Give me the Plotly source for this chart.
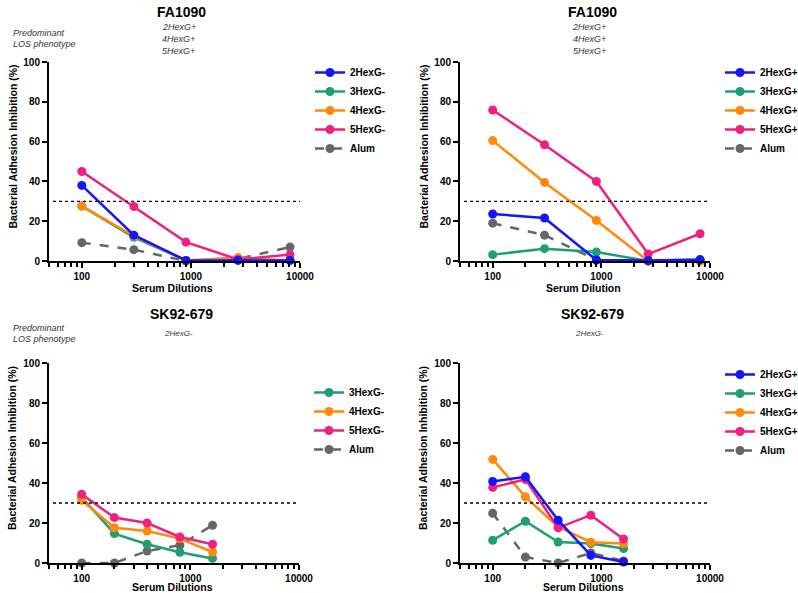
import plotly.graph_objects as go

W, H = 798, 593
FONT = "Arial, Liberation Sans, sans-serif"

# ---------------- data ----------------
dil_fa = [100, 300, 900, 2700, 8100]
dil_sk = [100, 200, 400, 800, 1600]
x_tickvals = [100, 1000, 10000]
x_ticktext = ["100", "1000", "10000"]
y_tickvals = [0, 20, 40, 60, 80, 100]

fa_neg = {
    "2HexG-": [38, 13, 0.3, 0.3, 0.3],
    "3HexG-": [27.6, 11.9, 0.3, 0.5, 0.3],
    "4HexG-": [27.6, 12.5, 0.3, 1.7, 0.3],
    "5HexG-": [45, 27.4, 9.5, 0.8, 3.2],
    "Alum":   [9.2, 5.7, 0, 1, 7],
}
fa_pos = {
    "2HexG+": [23.6, 21.6, 0.5, 0.2, 0.7],
    "3HexG+": [3.2, 6.2, 4.5, 0, 0],
    "4HexG+": [60.5, 39.5, 20.4, 0, 0],
    "5HexG+": [75.9, 58.4, 40, 3.5, 13.7],
    "Alum":   [19, 13, 0.5, 0, 0.5],
}
sk_neg = {
    "3HexG-": [32.8, 14.7, 9.4, 5.4, 2.3],
    "4HexG-": [31.4, 17.6, 16, 12.2, 5.5],
    "5HexG-": [34.4, 22.7, 20, 13, 9.4],
    "Alum":   [0, 0, 6, 8.9, 18.9],
}
sk_pos = {
    "2HexG+": [40.8, 43.1, 21.4, 3.8, 0.5],
    "3HexG+": [11.4, 20.9, 10.5, 9.7, 7.2],
    "4HexG+": [51.8, 33.1, 18, 10.4, 9.7],
    "5HexG+": [37.8, 41.8, 17.6, 23.9, 12],
    "Alum":   [24.9, 3, 0, 5, 1],
}
threshold = 30
legend_order = ["2HexG", "3HexG", "4HexG", "5HexG", "Alum"]
draw_order = ["Alum", "3HexG", "4HexG", "5HexG", "2HexG"]
colors = {"2HexG": "#1414ff", "3HexG": "#1f9e72", "4HexG": "#ff8a0a",
          "5HexG": "#f0207f", "Alum": "#666666"}

panels = [
    dict(data=fa_neg, x=dil_fa, title="FA1090", sub=["2HexG+", "4HexG+", "5HexG+"],
         subsize=9, pred=True, xlabel="Serum Dilutions", box=(49, 300, 62, 261), legtop=58, xl=288),
    dict(data=fa_pos, x=dil_fa, title="FA1090", sub=["2HexG+", "4HexG+", "5HexG+"],
         subsize=9, pred=False, xlabel="Serum Dilution", box=(460, 710, 62, 261), legtop=58, xl=288),
    dict(data=sk_neg, x=dil_sk, title="SK92-679", sub=["2HexG-"],
         subsize=8, pred=True, xlabel="Serum Dilutions", box=(49, 299, 363, 563), legtop=378, xl=587),
    dict(data=sk_pos, x=dil_sk, title="SK92-679", sub=["2HexG-"],
         subsize=8, pred=False, xlabel="Serum Dilutions", box=(460, 710, 363, 563), legtop=360, xl=587),
]

fig = go.Figure()
annotations = []
shapes = []
layout = {}

def px(x):
    return x / W

def py(y):
    return 1 - y / H

for i, p in enumerate(panels):
    n = "" if i == 0 else str(i + 1)
    xa, ya = "x" + n, "y" + n
    leg = "legend" + n
    x0, x1, y0, y1 = p["box"]
    keys = {k.rstrip("+-"): k for k in p["data"]}
    for base in draw_order:
        if base not in keys:
            continue
        name = keys[base]
        fig.add_trace(go.Scatter(
            x=p["x"], y=p["data"][name], name=name, mode="lines+markers",
            xaxis=xa, yaxis=ya, legend=leg, cliponaxis=False,
            legendrank=legend_order.index(base) + 1,
            line=dict(color=colors[base], width=2.5,
                      dash="dash" if base == "Alum" else "solid"),
            marker=dict(color=colors[base], size=9),
        ))
    layout["xaxis" + n] = dict(
        type="log", range=[1.699, 4], domain=[px(x0), px(x1)], anchor=ya,
        showline=True, linecolor="black", linewidth=2, showgrid=False, zeroline=False,
        ticks="outside", ticklen=5, tickwidth=2, tickcolor="black",
        tickmode="array", tickvals=x_tickvals, ticktext=x_ticktext,
        minor=dict(ticks="outside", ticklen=3.5, tickwidth=1.5, tickcolor="black",
                   dtick="D1", showgrid=False),
        tickfont=dict(family=FONT, size=10, color="black", weight="bold"),
        fixedrange=True,
    )
    layout["yaxis" + n] = dict(
        range=[0, 100], domain=[py(y1), py(y0)], anchor=xa,
        showline=True, linecolor="black", linewidth=2, showgrid=False, zeroline=False,
        ticks="outside", ticklen=5, tickwidth=2, tickcolor="black",
        tickvals=y_tickvals,
        tickfont=dict(family=FONT, size=10, color="black", weight="bold"),
        fixedrange=True,
    )
    layout[leg] = dict(
        x=px(x1 + 10), y=py(p["legtop"]), xanchor="left", yanchor="top",
        font=dict(family=FONT, size=10, color="black", weight="bold"),
        bgcolor="rgba(0,0,0,0)", itemwidth=30, tracegroupgap=0,
    )
    shapes.append(dict(type="line", xref=xa + " domain", yref=ya,
                       x0=0.016, x1=1.0, y0=threshold, y1=threshold,
                       line=dict(color="black", width=1.3, dash="dot")))
    cx = (x0 + x1) / 2
    annotations.append(dict(text="<b>%s</b>" % p["title"], x=px(cx + 7), y=py(y0 - 50 if i < 2 else y0 - 49),
                            xref="paper", yref="paper", showarrow=False,
                            font=dict(family=FONT, size=14, color="black"),
                            xanchor="center", yanchor="middle"))
    sub_top = y0 - 35 if i < 2 else y0 - 30
    for j, s in enumerate(p["sub"]):
        annotations.append(dict(text="<i>%s</i>" % s, x=px(cx + 4), y=py(sub_top + 12 * j),
                                xref="paper", yref="paper", showarrow=False,
                                font=dict(family=FONT, size=p["subsize"], color="#333333"),
                                xanchor="center", yanchor="middle"))
    if p["pred"]:
        for j, s in enumerate(["Predominant", "LOS phenotype"]):
            annotations.append(dict(text="<i>%s</i>" % s, x=px(11),
                                    y=py(y0 - 29 + 11 * j if i < 2 else y0 - 35 + 11 * j),
                                    xref="paper", yref="paper", showarrow=False,
                                    font=dict(family=FONT, size=9, color="#333333"),
                                    xanchor="left", yanchor="middle"))
    annotations.append(dict(text="<b>%s</b>" % p["xlabel"], x=px(cx - 2), y=py(p["xl"]),
                            xref="paper", yref="paper", showarrow=False,
                            font=dict(family=FONT, size=10.5, color="black"),
                            xanchor="center", yanchor="middle"))
    annotations.append(dict(text="<b>Bacterial Adhesion Inhibition (%)</b>", x=px(x0 - 37),
                            y=py((y0 + y1) / 2 - 15), textangle=-90,
                            xref="paper", yref="paper", showarrow=False,
                            font=dict(family=FONT, size=10.5, color="black"),
                            xanchor="center", yanchor="middle"))

fig.update_layout(
    width=W, height=H, margin=dict(l=0, r=0, t=0, b=0, autoexpand=False),
    paper_bgcolor="white", plot_bgcolor="white",
    annotations=annotations, shapes=shapes, **layout,
)
fig.write_html("out.html")
